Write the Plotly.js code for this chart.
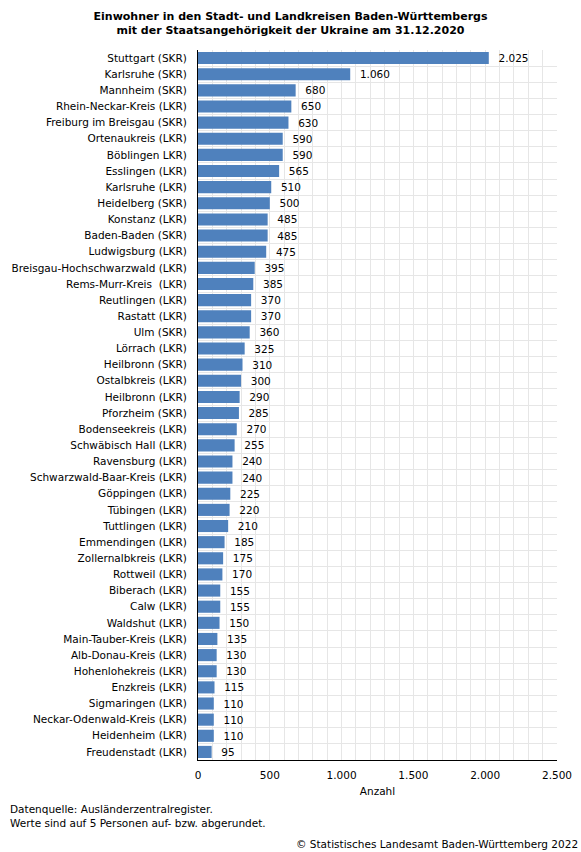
<!DOCTYPE html>
<html>
<head>
<meta charset="utf-8">
<script src="https://cdn.plot.ly/plotly-3.0.1.min.js"></script>
<style>
html,body{margin:0;padding:0;background:#fff;}
#chart{width:581px;height:852px;}
</style>
</head>
<body>
<div id="chart"></div>
<script>
const kreise = [
  "Stuttgart (SKR)", "Karlsruhe (SKR)", "Mannheim (SKR)", "Rhein-Neckar-Kreis (LKR)",
  "Freiburg im Breisgau (SKR)", "Ortenaukreis (LKR)", "Böblingen LKR)", "Esslingen (LKR)",
  "Karlsruhe (LKR)", "Heidelberg (SKR)", "Konstanz (LKR)", "Baden-Baden (SKR)",
  "Ludwigsburg (LKR)", "Breisgau-Hochschwarzwald (LKR)", "Rems-Murr-Kreis  (LKR)",
  "Reutlingen (LKR)", "Rastatt (LKR)", "Ulm (SKR)", "Lörrach (LKR)", "Heilbronn (SKR)",
  "Ostalbkreis (LKR)", "Heilbronn (LKR)", "Pforzheim (SKR)", "Bodenseekreis (LKR)",
  "Schwäbisch Hall (LKR)", "Ravensburg (LKR)", "Schwarzwald-Baar-Kreis (LKR)",
  "Göppingen (LKR)", "Tübingen (LKR)", "Tuttlingen (LKR)", "Emmendingen (LKR)",
  "Zollernalbkreis (LKR)", "Rottweil (LKR)", "Biberach (LKR)", "Calw (LKR)",
  "Waldshut (LKR)", "Main-Tauber-Kreis (LKR)", "Alb-Donau-Kreis (LKR)",
  "Hohenlohekreis (LKR)", "Enzkreis (LKR)", "Sigmaringen (LKR)",
  "Neckar-Odenwald-Kreis (LKR)", "Heidenheim (LKR)", "Freudenstadt (LKR)"
];
const einwohner = [
  2025, 1060, 680, 650,
  630, 590, 590, 565,
  510, 500, 485, 485,
  475, 395, 385,
  370, 370, 360, 325, 310,
  300, 290, 285, 270,
  255, 240, 240,
  225, 220, 210, 185,
  175, 170, 155, 155,
  150, 135, 130,
  130, 115, 110,
  110, 110, 95
];
const xTickVals = [0, 500, 1000, 1500, 2000, 2500];

const FONT = "DejaVu Sans, Verdana, sans-serif";
const GRID = "#e6e6e6";

const trace = {
  type: "bar",
  orientation: "h",
  x: einwohner,
  y: kreise,
  marker: {color: "#4f81bd"},
  text: einwohner,
  texttemplate: "  %{x:,d}",
  textposition: "outside",
  cliponaxis: false,
  textfont: {family: FONT, size: 10.5, color: "#000"},
  hoverinfo: "x+y"
};

const layout = {
  width: 581,
  height: 852,
  margin: {l: 198, r: 24, t: 50, b: 92},
  paper_bgcolor: "#fff",
  plot_bgcolor: "#fff",
  separators: ",.",
  showlegend: false,
  bargap: 0.25,
  font: {family: FONT, size: 10.5, color: "#000"},
  title: {
    text: "<b>Einwohner in den Stadt- und Landkreisen Baden-Württembergs<br>mit der Staatsangehörigkeit der Ukraine am 31.12.2020</b>",
    font: {family: FONT, size: 11, color: "#000"},
    x: 0.5, xanchor: "center",
    y: 0.977, yanchor: "top"
  },
  xaxis: {
    range: [0, 2500],
    tickvals: xTickVals,
    tickformat: ",d",
    showgrid: true,
    gridcolor: GRID,
    gridwidth: 1,
    minor: {dtick: 100, showgrid: true, gridcolor: GRID, gridwidth: 1},
    zeroline: false,
    showline: true,
    linecolor: "#000",
    linewidth: 1,
    ticks: "",
    ticklabelstandoff: 5,
    tickfont: {family: FONT, size: 10.5, color: "#000"},
    title: {text: "Anzahl", font: {family: FONT, size: 10.5, color: "#000"}, standoff: 8},
    mirror: false
  },
  yaxis: {
    type: "category",
    autorange: "reversed",
    tickson: "boundaries",
    showgrid: true,
    gridcolor: GRID,
    gridwidth: 1,
    showline: true,
    linecolor: "#000",
    linewidth: 1,
    ticks: "",
    ticklabelstandoff: 8,
    tickfont: {family: FONT, size: 10.5, color: "#000"}
  },
  annotations: [
    {
      text: "Datenquelle: Ausländerzentralregister.<br>Werte sind auf 5 Personen auf- bzw. abgerundet.",
      xref: "paper", yref: "paper",
      x: (8 - 198) / 359, y: -41 / 710,
      xanchor: "left", yanchor: "top", align: "left",
      showarrow: false,
      font: {family: FONT, size: 10.5, color: "#000"}
    },
    {
      text: "© Statistisches Landesamt Baden-Württemberg 2022",
      xref: "paper", yref: "paper",
      x: 1 + 23 / 359, y: -76 / 710,
      xanchor: "right", yanchor: "top", align: "right",
      showarrow: false,
      font: {family: FONT, size: 10.5, color: "#000"}
    }
  ]
};

Plotly.newPlot("chart", [trace], layout, {displayModeBar: false, staticPlot: true});
</script>
</body>
</html>
